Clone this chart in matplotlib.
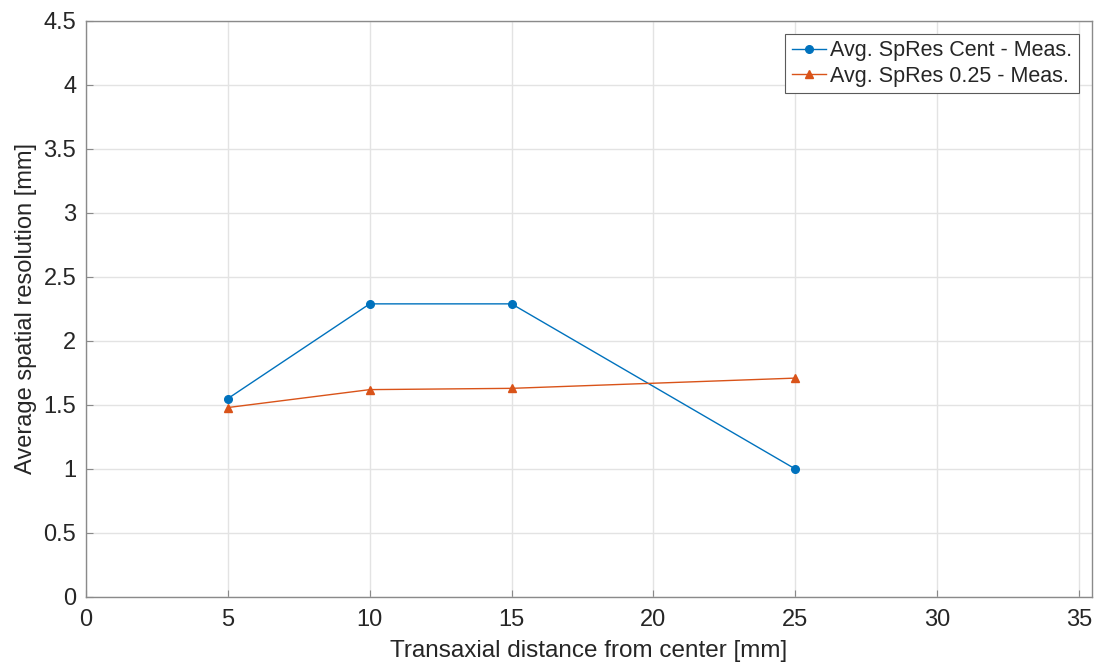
import numpy as np
import matplotlib.pyplot as plt

plt.rcParams['font.family'] = ['Liberation Sans', 'DejaVu Sans']

distance = [5, 10, 15, 25]
spres_cent = [1.55, 2.29, 2.29, 1.00]
spres_025 = [1.48, 1.62, 1.63, 1.71]

fig = plt.figure(figsize=(10.94, 6.68), dpi=100)
ax = fig.add_axes([0.0786, 0.1063, 0.9194, 0.8623])

ax.plot(distance, spres_cent, color='#0072BD', marker='o', markersize=5.5,
        linewidth=1.0, label='Avg. SpRes Cent - Meas.')
ax.plot(distance, spres_025, color='#D95319', marker='^', markersize=5.5,
        linewidth=1.0, label='Avg. SpRes 0.25 - Meas.')

ax.set_xlim(0, 35.45)
ax.set_ylim(0, 4.5)
ax.set_xticks(np.arange(0, 36, 5))
ax.set_yticks(np.arange(0, 4.6, 0.5))
ax.set_yticklabels(['0', '0.5', '1', '1.5', '2', '2.5', '3', '3.5', '4', '4.5'])

ax.grid(True, color='#e3e3e3', linewidth=1.0)
ax.set_axisbelow(True)
for s in ax.spines.values():
    s.set_color('#8a8a8a')
    s.set_linewidth(1.0)
ax.tick_params(direction='in', length=5, color='#8a8a8a', labelsize=17,
               labelcolor='#262626', top=False, right=False)
ax.tick_params(axis='x', pad=9)
ax.tick_params(axis='y', pad=7)

ax.set_xlabel('Transaxial distance from center [mm]', fontsize=17.5, color='#262626', labelpad=6)
ax.set_ylabel('Average spatial resolution [mm]', fontsize=17, color='#262626', labelpad=5)

leg = ax.legend(loc='upper right', fontsize=15.5, handlelength=1.6, handletextpad=0.2,
                borderpad=0.3, labelspacing=0.2, fancybox=False, framealpha=1,
                edgecolor='#5a5a5a', borderaxespad=0.6)
leg.get_frame().set_linewidth(0.8)
for t in leg.get_texts():
    t.set_color('#262626')

fig.savefig('out.png', dpi=100)
